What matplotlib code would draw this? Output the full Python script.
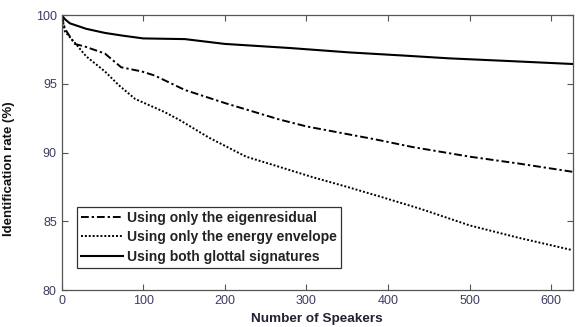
import matplotlib
matplotlib.use("Agg")
import matplotlib.pyplot as plt

plt.rcParams['font.family'] = ['Liberation Sans', 'DejaVu Sans']

# Data
x_eig = [0, 4, 16, 29, 53, 73, 98, 114, 151, 200, 267, 300, 385, 430, 500, 560, 626]
y_eig = [100, 99.0, 97.9, 97.7, 97.2, 96.2, 95.9, 95.6, 94.55, 93.6, 92.4, 91.9, 90.95, 90.4, 89.7, 89.2, 88.6]

x_env = [0, 4, 16, 30, 53, 70, 90, 126, 145, 180, 226, 270, 308, 350, 390, 440, 500, 560, 626]
y_env = [100, 98.8, 98.0, 97.0, 95.9, 94.9, 93.9, 92.95, 92.35, 91.1, 89.7, 88.9, 88.2, 87.5, 86.8, 85.9, 84.7, 83.8, 82.9]

x_both = [0, 4, 10, 30, 53, 75, 100, 151, 200, 280, 353, 420, 475, 550, 626]
y_both = [100, 99.7, 99.4, 99.0, 98.7, 98.5, 98.3, 98.25, 97.9, 97.6, 97.28, 97.05, 96.85, 96.65, 96.44]

labels = ['Using only the eigenresidual', 'Using only the energy envelope', 'Using both glottal signatures']
xticks = [0, 100, 200, 300, 400, 500, 600]
yticks = [80, 85, 90, 95, 100]

fig = plt.figure(figsize=(5.76, 3.27), dpi=100)
ax = fig.add_axes([0.107, 0.113, 0.887, 0.841])

ax.plot(x_eig, y_eig, color='black', lw=1.4, linestyle=(0, (4, 1.5, 1.2, 1.5)), label=labels[0])
ax.plot(x_env, y_env, color='black', lw=1.4, linestyle=(0, (1, 1)), label=labels[1])
ax.plot(x_both, y_both, color='black', lw=1.5, linestyle='-', label=labels[2])

ax.set_xlim(0, 626)
ax.set_ylim(80, 100)
ax.set_xticks(xticks)
ax.set_yticks(yticks)
tick_color = '#3c3c64'
ax.tick_params(direction='in', top=True, right=True, length=4, width=0.8,
               colors='#555555', labelcolor=tick_color, labelsize=9)
for s in ax.spines.values():
    s.set_color('#555555')
    s.set_linewidth(0.9)

ax.set_xlabel('Number of Speakers', fontsize=9.7, fontweight='bold', color='#222233')
ax.xaxis.set_label_coords(0.5, -0.084)
ax.set_ylabel('Identification rate (%)', fontsize=9.5, fontweight='bold', color='#111111')
ax.yaxis.set_label_coords(-0.092, 0.44)

leg = ax.legend(loc='lower left', bbox_to_anchor=(0.03, 0.08),
                prop={'weight': 'bold', 'size': 10}, frameon=True, fancybox=False,
                edgecolor='black', handlelength=3.0, handletextpad=0.3,
                borderpad=0.3, labelspacing=0.4, borderaxespad=0)
leg.get_frame().set_linewidth(0.9)
for t in leg.get_texts():
    t.set_color('#222222')

fig.savefig('out.png', dpi=100)
